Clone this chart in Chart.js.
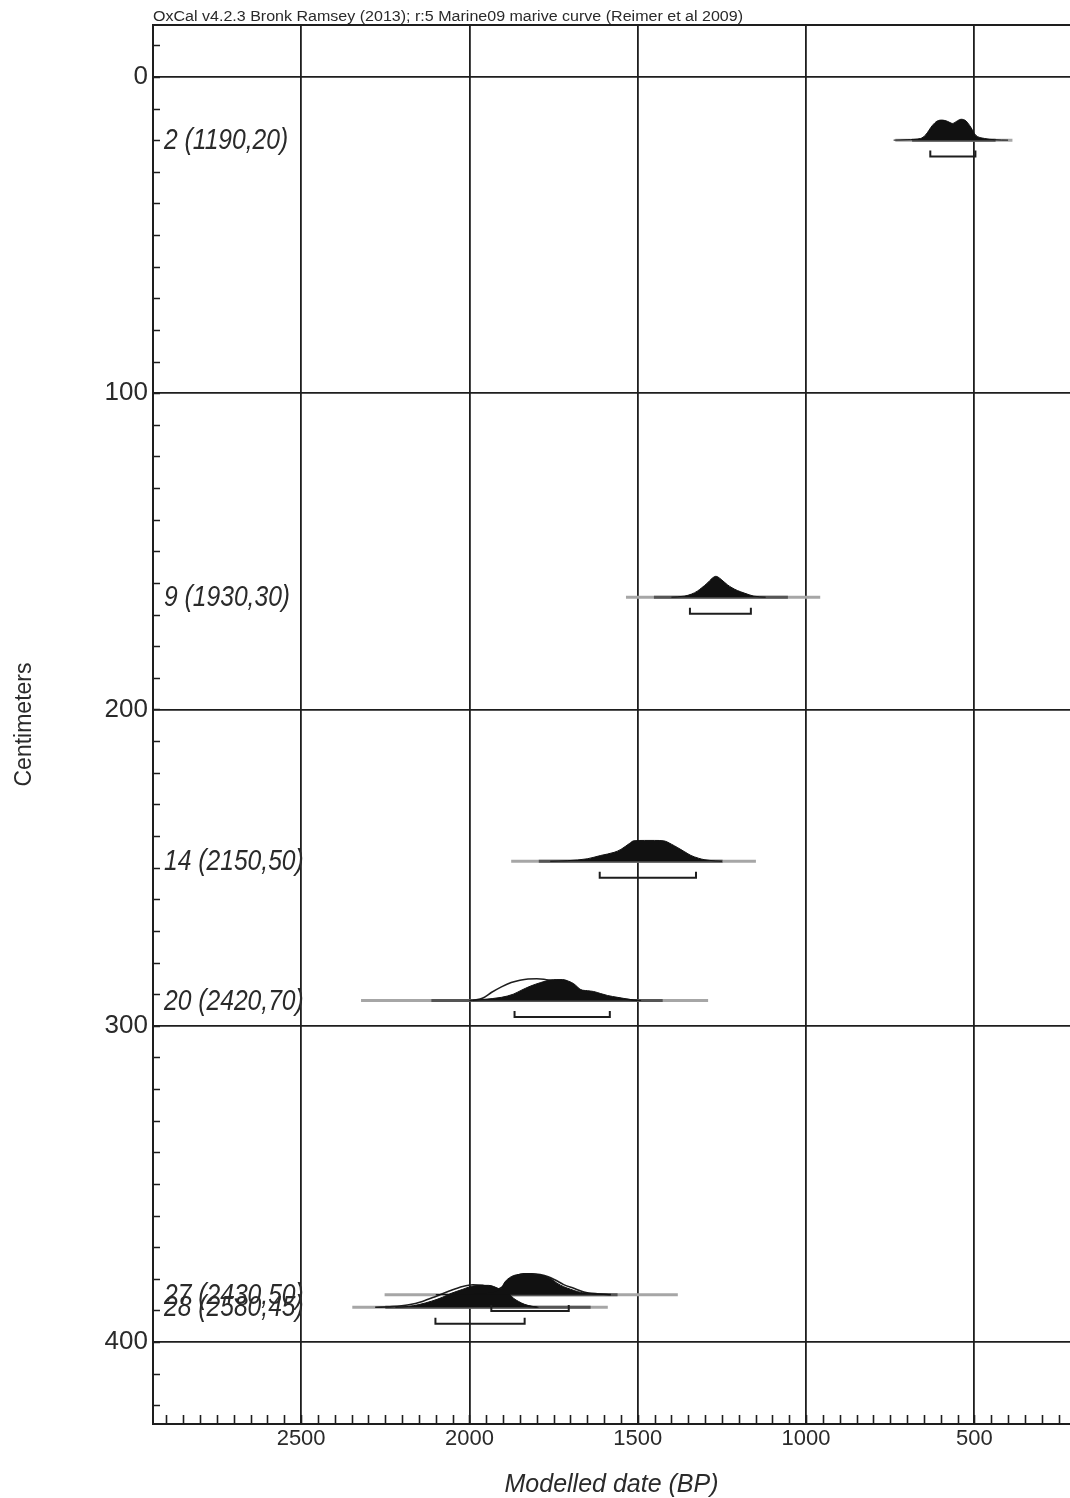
<!DOCTYPE html>
<html>
<head>
<meta charset="utf-8">
<script src="https://cdn.jsdelivr.net/npm/chart.js@4.4.1/dist/chart.umd.min.js"></script>
<style>
  html, body { margin: 0; padding: 0; background: #fff; }
  #wrap { width: 1070px; height: 1498px; }
</style>
</head>
<body>
<div id="wrap"><canvas id="depthChart" width="1070" height="1498"></canvas></div>
<script>
// samples: id, lab age (BP), lab error, depth (cm)
const sampleIds = ['2', '9', '14', '20', '27', '28'];
const labAges = [1190, 1930, 2150, 2420, 2430, 2580];
const labErrors = [20, 30, 50, 70, 50, 45];
const depths = [20, 164.5, 248, 292, 385, 389];

// extent of the likelihood and of the modelled distribution (BP)
const likelihoodFrom = [735, 1535, 1876, 2322, 2252, 2348];
const likelihoodTo = [387, 958, 1149, 1291, 1381, 1589];
const modelledFrom = [685, 1452, 1794, 2113, 2050, 2250];
const modelledTo = [437, 1054, 1248, 1426, 1560, 1640];

// 95.4% ranges (BP)
const rangeFrom = [631, 1345, 1613, 1866, 1935, 2101];
const rangeTo = [497, 1164, 1327, 1583, 1705, 1836];

// modelled (posterior) probability, relative: [date BP, p]
const posterior2 = [[400,0],[440,0.02],[470,0.08],[497,0.25],[510,0.6],[525,0.92],[540,1.0],[550,0.93],[565,0.8],[580,0.9],[595,0.96],[610,0.92],[625,0.7],[645,0.25],[660,0.08],[700,0.02],[740,0]];
const posterior9 = [[1120,0],[1155,0.05],[1184,0.2],[1204,0.32],[1220,0.45],[1234,0.6],[1250,0.82],[1262,0.97],[1268,1.0],[1278,0.92],[1293,0.68],[1310,0.45],[1323,0.29],[1340,0.15],[1362,0.05],[1400,0]];
const posterior14 = [[1250,0],[1270,0.02],[1303,0.08],[1320,0.15],[1342,0.28],[1360,0.45],[1381,0.65],[1400,0.82],[1423,0.98],[1450,1.0],[1480,1.0],[1512,0.98],[1525,0.85],[1550,0.57],[1570,0.43],[1610,0.28],[1650,0.12],[1708,0.03],[1760,0]];
const posterior20 = [[1490,0],[1512,0.02],[1542,0.1],[1560,0.15],[1590,0.24],[1610,0.33],[1631,0.43],[1650,0.47],[1669,0.52],[1690,0.8],[1705,0.92],[1723,1.0],[1740,1.0],[1760,0.98],[1788,0.86],[1820,0.68],[1847,0.48],[1870,0.3],[1905,0.15],[1960,0.05],[2000,0]];
const posterior27 = [[1580,0],[1619,0.03],[1650,0.07],[1678,0.14],[1700,0.26],[1720,0.38],[1740,0.55],[1758,0.76],[1780,0.9],[1800,0.97],[1822,1.0],[1840,0.99],[1860,0.95],[1876,0.86],[1895,0.6],[1905,0.32],[1920,0.16],[1950,0.07],[2000,0.03],[2100,0]];
const posterior28 = [[1795,0],[1815,0.05],[1836,0.14],[1854,0.28],[1869,0.43],[1884,0.67],[1914,0.9],[1943,1.05],[1960,1.05],[1995,1.0],[2020,0.86],[2054,0.67],[2080,0.48],[2113,0.29],[2150,0.13],[2181,0.04],[2220,0]];

// unmodelled distributions, drawn as outlines
const prior20 = [[1500,0],[1550,0.08],[1590,0.17],[1620,0.26],[1650,0.35],[1680,0.45],[1700,0.6],[1720,0.78],[1740,0.9],[1760,0.97],[1779,1.02],[1800,1.04],[1826,1.03],[1850,0.97],[1876,0.86],[1905,0.65],[1935,0.38],[1960,0.12],[1990,0]];
const prior27 = [[1580,0],[1620,0.04],[1660,0.13],[1690,0.3],[1720,0.48],[1745,0.7],[1766,0.86],[1790,0.96],[1815,1.0],[1840,1.0],[1860,0.9],[1880,0.7],[1900,0.4],[1930,0.15],[1980,0.04],[2050,0]];
const prior28 = [[1800,0],[1840,0.1],[1870,0.35],[1900,0.7],[1930,0.95],[1960,1.05],[1990,1.08],[2020,1.0],[2060,0.78],[2100,0.52],[2140,0.28],[2180,0.12],[2230,0.03],[2280,0]];

const posteriors = [posterior2, posterior9, posterior14, posterior20, posterior27, posterior28];
const priors = [null, null, null, prior20, prior27, prior28];

// axis ticks
const dateLabels = [2500, 2000, 1500, 1000, 500];
const depthLabels = [0, 100, 200, 300, 400];
const dateMinorStep = 50;
const depthMinorStep = 10;

const headerText = 'OxCal v4.2.3 Bronk Ramsey (2013); r:5 Marine09 marive curve (Reimer et al 2009)';

const FONT = "'Liberation Sans', Arial, sans-serif";
const INK = '#1e1e1e';
const TEXT = '#2a2a2a';
const PEAK_CM = 6.6;      // height of a distribution's peak, in depth units
const BRACKET_CM = 5.2;   // range bracket offset below the depth line
const BRACKET_END = 1.9;

function curve(points, depth) {
    return points.slice()
        .sort((a, b) => a[0] - b[0])
        .map(p => ({ x: p[0], y: depth - p[1] * PEAK_CM }));
}

const datasets = [];
sampleIds.forEach((id, i) => {
    const d = depths[i];
    datasets.push({
        data: [{ x: likelihoodFrom[i], y: d }, { x: likelihoodTo[i], y: d }],
        borderColor: '#a6a6a6', borderWidth: 3, order: 4
    });
    datasets.push({
        data: [{ x: modelledFrom[i], y: d }, { x: modelledTo[i], y: d }],
        borderColor: '#555', borderWidth: 3, order: 3
    });
    if (priors[i]) {
        datasets.push({
            data: curve(priors[i], d),
            borderColor: INK, borderWidth: 1.6, fill: false,
            cubicInterpolationMode: 'monotone', order: 2
        });
    }
    datasets.push({
        data: curve(posteriors[i], d),
        borderColor: '#111', borderWidth: 1, backgroundColor: '#111',
        fill: { value: d }, cubicInterpolationMode: 'monotone', order: 1
    });
    const by = d + BRACKET_CM;
    datasets.push({
        data: [
            { x: rangeFrom[i], y: by - BRACKET_END }, { x: rangeFrom[i], y: by },
            { x: rangeTo[i], y: by }, { x: rangeTo[i], y: by - BRACKET_END }
        ],
        borderColor: INK, borderWidth: 2, order: 0
    });
});

// condensed text, like the narrow face OxCal prints with
function narrowText(ctx, text, x, y, squeeze) {
    ctx.save();
    ctx.translate(x, y);
    ctx.scale(squeeze, 1);
    ctx.fillText(text, 0, 0);
    ctx.restore();
}

// frame, inward minor ticks, sample labels and header line
const decorations = {
    id: 'decorations',
    afterDraw(chart) {
        const { ctx, chartArea: a, scales: { x, y } } = chart;
        ctx.save();
        ctx.strokeStyle = INK;
        ctx.lineWidth = 2;
        ctx.beginPath();
        ctx.moveTo(a.left, a.top);
        ctx.lineTo(a.right, a.top);
        ctx.stroke();

        ctx.lineWidth = 1.6;
        ctx.beginPath();
        for (let v = Math.ceil(y.min / depthMinorStep) * depthMinorStep; v <= y.max; v += depthMinorStep) {
            const py = Math.round(y.getPixelForValue(v)) + 0.5;
            ctx.moveTo(a.left, py);
            ctx.lineTo(a.left + 7, py);
        }
        for (let v = Math.ceil(x.min / dateMinorStep) * dateMinorStep; v <= x.max; v += dateMinorStep) {
            const px = Math.round(x.getPixelForValue(v)) + 0.5;
            ctx.moveTo(px, a.bottom);
            ctx.lineTo(px, a.bottom - 9);
        }
        ctx.stroke();

        ctx.fillStyle = TEXT;
        ctx.font = 'italic 29px ' + FONT;
        ctx.textAlign = 'left';
        ctx.textBaseline = 'middle';
        sampleIds.forEach((id, i) => {
            const label = id + ' (' + labAges[i] + ',' + labErrors[i] + ')';
            narrowText(ctx, label, a.left + 11, y.getPixelForValue(depths[i]) + 1, 0.85);
        });

        ctx.font = '14px ' + FONT;
        const w = ctx.measureText(headerText).width;
        narrowText(ctx, headerText, a.left, 17, 590 / w);
        ctx.restore();
    }
};

new Chart(document.getElementById('depthChart').getContext('2d'), {
    type: 'line',
    data: { datasets: datasets },
    options: {
        responsive: false,
        animation: false,
        events: [],
        layout: { padding: { top: 25, right: 0, left: 0, bottom: 0 } },
        elements: { point: { radius: 0 }, line: { tension: 0 } },
        plugins: { legend: { display: false }, tooltip: { enabled: false } },
        scales: {
            x: {
                type: 'linear',
                reverse: true,
                min: 216,
                max: 2940,
                afterBuildTicks: s => { s.ticks = dateLabels.map(v => ({ value: v })); },
                afterFit: s => { s.height = 74; },
                ticks: {
                    autoSkip: false, maxRotation: 0, padding: 2,
                    color: TEXT,
                    font: { family: FONT, size: 22 },
                    callback: v => String(v)
                },
                grid: { color: INK, lineWidth: 1.8, drawTicks: false },
                border: { color: INK, width: 2 },
                title: {
                    display: true, text: 'Modelled date (BP)', color: TEXT,
                    font: { family: FONT, size: 25, style: 'italic', lineHeight: 1.0 },
                    padding: { top: 0, bottom: 0 }
                }
            },
            y: {
                type: 'linear',
                reverse: true,
                min: -16.4,
                max: 425.9,
                afterBuildTicks: s => { s.ticks = depthLabels.map(v => ({ value: v })); },
                afterFit: s => { s.width = 153; },
                ticks: {
                    autoSkip: false, padding: 5,
                    color: TEXT,
                    font: { family: FONT, size: 26 },
                    callback: v => String(v)
                },
                grid: { color: INK, lineWidth: 1.8, drawTicks: false },
                border: { color: INK, width: 2 },
                title: {
                    display: true, text: 'Centimeters', color: TEXT,
                    font: { family: FONT, size: 23, lineHeight: 1.2 },
                    padding: { top: 11, bottom: 0 }
                }
            }
        }
    },
    plugins: [decorations]
});
</script>
</body>
</html>
